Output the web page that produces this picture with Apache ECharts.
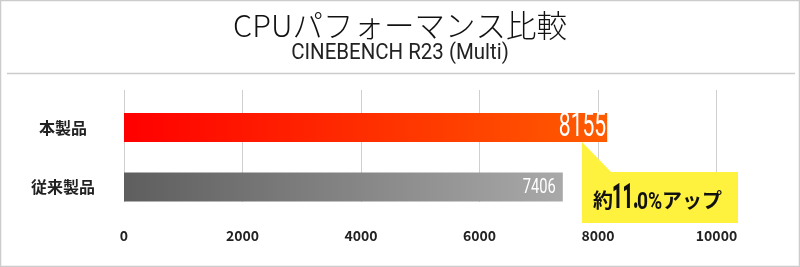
<!DOCTYPE html>
<html><head><meta charset="utf-8">
<script src="https://cdn.jsdelivr.net/npm/echarts@6/dist/echarts.min.js"></script>
<style>html,body{margin:0;padding:0;background:#fff}#c{width:800px;height:267px}</style>
</head><body><div id="c"></div>
<script>
const titleText = 'CPUパフォーマンス比較';
const subtitleText = 'CINEBENCH R23 (Multi)';
const categories = ['本製品', '従来製品'];
const scores = [8155, 7406];
const xTicks = [0, 2000, 4000, 6000, 8000, 10000];
const calloutParts = ['約', '11.', '0%', 'アップ'];

const latin = 'Roboto,"Liberation Sans",sans-serif';
const jp = '"Noto Sans CJK JP","Noto Sans",sans-serif';

const chart = echarts.init(document.getElementById('c'), null, {renderer: 'canvas'});

const barColors = [
  new echarts.graphic.LinearGradient(0, 0, 1, 0, [{offset: 0, color: '#ff0000'}, {offset: 1, color: '#ff5c00'}]),
  new echarts.graphic.LinearGradient(0, 0, 1, 0, [{offset: 0, color: '#5e5e5e'}, {offset: 1, color: '#a9a9a9'}])
];
// label look per bar (font size, horizontal squeeze, gap from bar end)
const labelLook = [
  {size: 34, sx: 0.62, gap: 1, dy: 0},
  {size: 21, sx: 0.7, gap: 7, dy: 0.5}
];

chart.setOption({
  animation: false,
  title: [
    {text: titleText, left: 'center', top: 5,
     textStyle: {fontFamily: jp, fontWeight: 300, fontSize: 30.5, color: '#111'}}
  ],
  grid: [
    {left: 124, width: 592.5, top: 97.75, height: 119},
    {left: 124, width: 592.5, top: 90, height: 112}
  ],
  xAxis: [
    {gridIndex: 0, type: 'value', min: xTicks[0], max: xTicks[xTicks.length - 1], interval: 2000, show: false},
    {gridIndex: 1, type: 'value', min: xTicks[0], max: xTicks[xTicks.length - 1], interval: 2000,
     axisLine: {show: false}, axisTick: {show: false},
     splitLine: {show: true, lineStyle: {color: '#cfcfcf', width: 1}},
     axisLabel: {margin: 27, fontFamily: jp, fontWeight: 'bold', fontSize: 14, color: '#222',
                 formatter: v => String(v)}}
  ],
  yAxis: [
    {gridIndex: 0, type: 'category', inverse: true, data: categories,
     axisLine: {show: false}, axisTick: {show: false}, splitLine: {show: false},
     axisLabel: {margin: 61, align: 'center', fontFamily: jp, fontWeight: 'bold', fontSize: 16, color: '#222'}},
    {gridIndex: 1, type: 'value', show: false}
  ],
  series: [{
    type: 'bar', xAxisIndex: 0, yAxisIndex: 0, barWidth: 29,
    data: scores.map((v, i) => ({value: v, itemStyle: {color: barColors[i]}}))
  }, {
    type: 'custom', xAxisIndex: 0, yAxisIndex: 0, z: 5,
    encode: {x: 0, y: 1},
    data: scores.map((v, i) => [v, i]),
    renderItem: function (params, api) {
      const i = params.dataIndex;
      const p = api.coord([api.value(0), api.value(1)]);
      const L = labelLook[i];
      return {
        type: 'text', x: p[0] - L.gap, y: p[1] + L.dy, scaleX: L.sx,
        style: {text: String(api.value(0)), fill: '#fff', align: 'right', verticalAlign: 'middle',
                font: 'normal ' + L.size + 'px ' + latin}
      };
    }
  }],
  graphic: [
    {type: 'rect', shape: {x: 0.5, y: 0.5, width: 799, height: 266},
     style: {fill: 'none', stroke: '#cccccc', lineWidth: 1.5}, z: 100},
    {type: 'line', shape: {x1: 7, y1: 73.5, x2: 795, y2: 73.5},
     style: {stroke: '#cccccc', lineWidth: 1.5}},
    {type: 'text', x: 400, y: 53, scaleX: 0.93,
     style: {text: subtitleText, align: 'center', verticalAlign: 'middle', fill: '#222',
             font: 'normal 22px ' + latin}},
    {type: 'polygon', shape: {points: [[582, 142], [582, 172], [611, 172]]},
     style: {fill: '#fff23e'}, z: 50},
    {type: 'rect', shape: {x: 582, y: 172, width: 156, height: 51},
     style: {fill: '#fff23e'}, z: 50},
    {type: 'text', x: 593, y: 200.5, z: 60,
     style: {text: calloutParts[0], align: 'left', verticalAlign: 'middle', fill: '#111',
             font: 'bold 20px ' + jp}},
    {type: 'text', x: 612, y: 199.5, scaleX: 0.52, z: 60,
     style: {text: calloutParts[1], align: 'left', verticalAlign: 'middle', fill: '#111',
             font: '900 35px ' + latin}},
    {type: 'text', x: 637, y: 203, scaleX: 0.8, z: 60,
     style: {text: calloutParts[2], align: 'left', verticalAlign: 'middle', fill: '#111',
             font: 'bold 24px ' + latin}},
    {type: 'text', x: 662, y: 200.5, z: 60,
     style: {text: calloutParts[3], align: 'left', verticalAlign: 'middle', fill: '#111',
             font: 'bold 20px ' + jp}}
  ]
});
</script></body></html>
